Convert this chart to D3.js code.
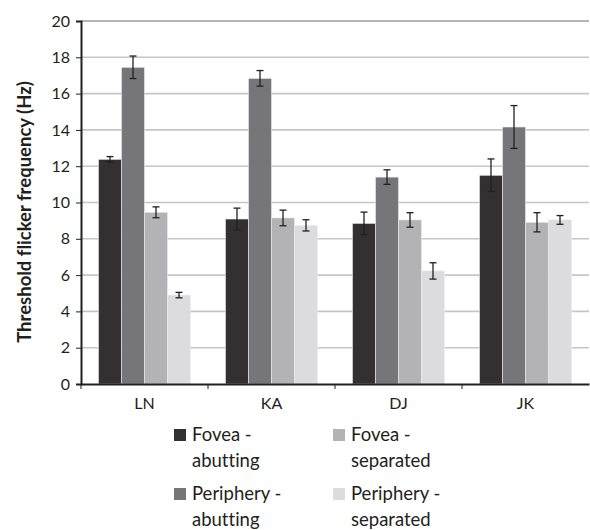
<!DOCTYPE html>
<html>
<head>
<meta charset="utf-8">
<script src="https://cdn.jsdelivr.net/npm/d3@7"></script>
<style>
  html, body { margin: 0; padding: 0; background: #fff; }
  svg { display: block; }
  text { font-family: Lato, "Open Sans", sans-serif; fill: #231f20; font-variant-ligatures: none; }
</style>
</head>
<body>
<svg id="chart" width="590" height="530"></svg>
<script>
// Subjects (x categories)
const categories = ["LN", "KA", "DJ", "JK"];

// Conditions (one bar per condition in each group)
const seriesNames = ["Fovea - abutting", "Periphery - abutting", "Fovea - separated", "Periphery - separated"];
const seriesColors = ["#323031", "#767678", "#b3b3b5", "#dcdcde"];

// Mean threshold flicker frequency (Hz), per condition, ordered as categories
const foveaAbutting      = [12.38, 9.09, 8.85, 11.50];
const peripheryAbutting  = [17.45, 16.84, 11.40, 14.16];
const foveaSeparated     = [9.46, 9.15, 9.04, 8.91];
const peripherySeparated = [4.90, 8.74, 6.23, 9.04];

// Error bar half-lengths (Hz)
const foveaAbuttingErr      = [0.15, 0.60, 0.62, 0.90];
const peripheryAbuttingErr  = [0.62, 0.43, 0.40, 1.18];
const foveaSeparatedErr     = [0.30, 0.43, 0.40, 0.53];
const peripherySeparatedErr = [0.15, 0.31, 0.45, 0.24];

// Y axis ticks
const yTicks = [0, 2, 4, 6, 8, 10, 12, 14, 16, 18, 20];

const values = [foveaAbutting, peripheryAbutting, foveaSeparated, peripherySeparated];
const errors = [foveaAbuttingErr, peripheryAbuttingErr, foveaSeparatedErr, peripherySeparatedErr];

const svg = d3.select("#chart");

const plotLeft = 81, plotRight = 589, plotTop = 21, plotBottom = 384;

const y = d3.scaleLinear().domain([0, 20]).range([plotBottom, plotTop]);
const x0 = d3.scaleBand().domain(categories).range([plotLeft, plotRight]).padding(0);
const x1 = d3.scaleBand().domain(d3.range(seriesNames.length))
  .range([0, x0.bandwidth()]).paddingInner(0).paddingOuter(0.76);

// Horizontal gridlines
svg.append("g").selectAll("line")
  .data(yTicks.filter(t => t > 0))
  .join("line")
  .attr("x1", plotLeft).attr("x2", plotRight)
  .attr("y1", d => y(d)).attr("y2", d => y(d))
  .attr("stroke", d => d === 20 ? "#9d9d9f" : "#c6c6c8")
  .attr("stroke-width", 1.6);

// Bars
const rows = [];
categories.forEach((c, ci) => {
  values.forEach((arr, si) => {
    rows.push({ cat: c, s: si, v: arr[ci], e: errors[si][ci] });
  });
});

svg.append("g").selectAll("rect")
  .data(rows)
  .join("rect")
  .attr("x", d => x0(d.cat) + x1(d.s))
  .attr("width", x1.bandwidth())
  .attr("y", d => y(d.v))
  .attr("height", d => y(0) - y(d.v))
  .attr("fill", d => seriesColors[d.s])
  .attr("stroke", "#ededed")
  .attr("stroke-width", 0.6);

// Error bars
const eb = svg.append("g").attr("stroke", "#231f20").attr("stroke-width", 1.3).attr("fill", "none");
rows.forEach(d => {
  const cx = x0(d.cat) + x1(d.s) + x1.bandwidth() / 2;
  const y1 = y(d.v + d.e), y2 = y(d.v - d.e);
  eb.append("line").attr("x1", cx).attr("x2", cx).attr("y1", y1).attr("y2", y2);
  eb.append("line").attr("x1", cx - 3.5).attr("x2", cx + 3.5).attr("y1", y1).attr("y2", y1);
  eb.append("line").attr("x1", cx - 3.5).attr("x2", cx + 3.5).attr("y1", y2).attr("y2", y2);
});

// Y axis
const yAxis = svg.append("g")
  .attr("transform", `translate(${plotLeft},0)`)
  .call(d3.axisLeft(y).tickValues(yTicks).tickSize(5).tickPadding(6).tickFormat(d3.format("d")));
yAxis.select(".domain").attr("stroke", "#231f20").attr("stroke-width", 2);
yAxis.selectAll(".tick line").attr("stroke", "#231f20").attr("stroke-width", 1);
yAxis.selectAll(".tick text")
  .attr("font-family", "Lato, sans-serif")
  .attr("font-size", 16)
  .attr("fill", "#231f20");

// X axis
const xAxis = svg.append("g")
  .attr("transform", `translate(0,${plotBottom})`)
  .call(d3.axisBottom(x0).tickSize(0).tickPadding(14));
xAxis.select(".domain").attr("stroke", "#231f20").attr("stroke-width", 2.2);
xAxis.selectAll(".tick text")
  .attr("font-family", "Lato, sans-serif")
  .attr("font-size", 16)
  .attr("fill", "#231f20");
// Category separator ticks
xAxis.append("g").selectAll("line")
  .data(categories)
  .join("line")
  .attr("x1", d => x0(d)).attr("x2", d => x0(d))
  .attr("y1", 0).attr("y2", 5)
  .attr("stroke", "#231f20").attr("stroke-width", 1);

// Y axis title
svg.append("text")
  .attr("transform", `translate(31,212) rotate(-90)`)
  .attr("text-anchor", "middle")
  .attr("font-weight", "bold")
  .attr("font-size", 18.5)
  .text("Threshold flicker frequency (Hz)");

// Legend: two columns, two rows, each label split over two lines
const legendPos = [
  { x: 174, y: 429 }, { x: 174, y: 488 },
  { x: 333, y: 429 }, { x: 333, y: 488 }
];
const lg = svg.append("g");
seriesNames.forEach((name, si) => {
  const p = legendPos[si];
  lg.append("rect").attr("x", p.x).attr("y", p.y).attr("width", 12).attr("height", 12)
    .attr("fill", seriesColors[si]);
  const parts = name.split(" - ");
  const t = lg.append("text").attr("x", p.x + 18).attr("y", p.y + 12)
    .attr("font-size", 18.5);
  t.append("tspan").attr("x", p.x + 18).text(parts[0] + " -");
  t.append("tspan").attr("x", p.x + 18).attr("dy", 26).text(parts[1]);
});
</script>
</body>
</html>
